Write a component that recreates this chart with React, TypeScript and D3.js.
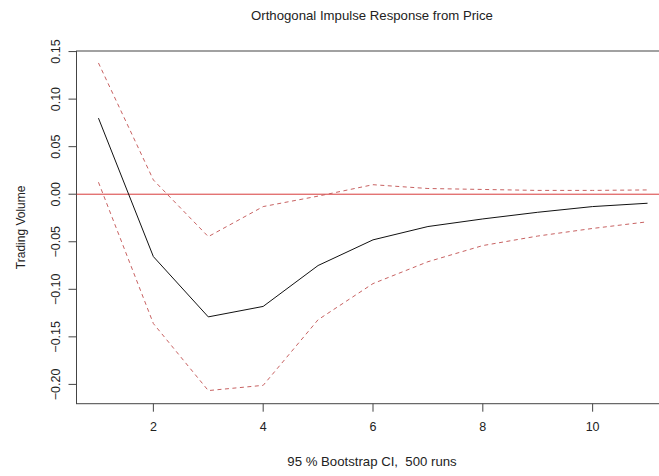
import React from "react";
import * as d3 from "d3";

const steps = [1, 2, 3, 4, 5, 6, 7, 8, 9, 10, 11];
const irf = [0.08, -0.0656, -0.129, -0.118, -0.075, -0.048, -0.034, -0.026, -0.019, -0.013, -0.0095];
const upper = [0.138, 0.015, -0.0446, -0.013, -0.002, 0.010, 0.006, 0.005, 0.004, 0.004, 0.0045];
const lower = [0.0126, -0.136, -0.2065, -0.201, -0.132, -0.094, -0.071, -0.054, -0.044, -0.036, -0.029];
const xTicks = [2, 4, 6, 8, 10];
const yTicks = [-0.2, -0.15, -0.1, -0.05, 0, 0.05, 0.1, 0.15];
const title = "Orthogonal Impulse Response from Price";
const xLabel = "95 % Bootstrap CI,  500 runs";
const yLabel = "Trading Volume";

const W = 659;
const H = 476;
const FONT = "'Liberation Sans', Arial, sans-serif";

export default function App() {
  const x = d3.scaleLinear().domain([0.6, 11.4]).range([76.5, 669.5]);
  const y = d3.scaleLinear().domain([-0.2203, 0.1506]).range([403.7, 51]);
  const line = d3
    .line<number>()
    .x((_, i) => x(steps[i]))
    .y((d) => y(d));
  const [y0, y1] = y.range();
  const [x0, x1] = x.range();
  const axisColor = "#444";
  const textColor = "#222";
  return (
    <div style={{ position: "fixed", left: 0, top: 0 }}>
      <svg width={W} height={H} style={{ display: "block", background: "#fff" }}>
        <text x={372} y={19.5} textAnchor="middle" fontFamily={FONT} fontSize={13.2} fill={textColor}>
          {title}
        </text>
        <rect x={x0} y={y1} width={x1 - x0} height={y0 - y1} fill="none" stroke={axisColor} strokeWidth={1} />
        <line x1={x0} x2={x1} y1={y(0)} y2={y(0)} stroke="#d83a3a" strokeWidth={1} />
        <path d={line(upper) || ""} fill="none" stroke="#c86262" strokeWidth={1} strokeDasharray="4,3.5" />
        <path d={line(lower) || ""} fill="none" stroke="#c86262" strokeWidth={1} strokeDasharray="4,3.5" />
        <path d={line(irf) || ""} fill="none" stroke="#111" strokeWidth={1} />
        {xTicks.map((t) => (
          <g key={"x" + t}>
            <line x1={x(t)} x2={x(t)} y1={y0} y2={y0 + 8} stroke={axisColor} />
            <text x={x(t)} y={431} textAnchor="middle" fontFamily={FONT} fontSize={12.5} fill={textColor}>
              {t}
            </text>
          </g>
        ))}
        {yTicks.map((t) => (
          <g key={"y" + t}>
            <line x1={x0} x2={x0 - 8} y1={y(t)} y2={y(t)} stroke={axisColor} />
            <text
              transform={`translate(59.5,${y(t)}) rotate(-90)`}
              textAnchor="middle"
              fontFamily={FONT}
              fontSize={12.5}
              fill={textColor}
            >
              {d3.format(".2f")(t)}
            </text>
          </g>
        ))}
        <text
          x={372}
          y={466}
          textAnchor="middle"
          fontFamily={FONT}
          fontSize={13.2}
          fill={textColor}
          style={{ whiteSpace: "pre" }}
        >
          {xLabel}
        </text>
        <text
          transform={`translate(24.5,${(y0 + y1) / 2}) rotate(-90)`}
          textAnchor="middle"
          fontFamily={FONT}
          fontSize={12}
          fill={textColor}
        >
          {yLabel}
        </text>
      </svg>
    </div>
  );
}
